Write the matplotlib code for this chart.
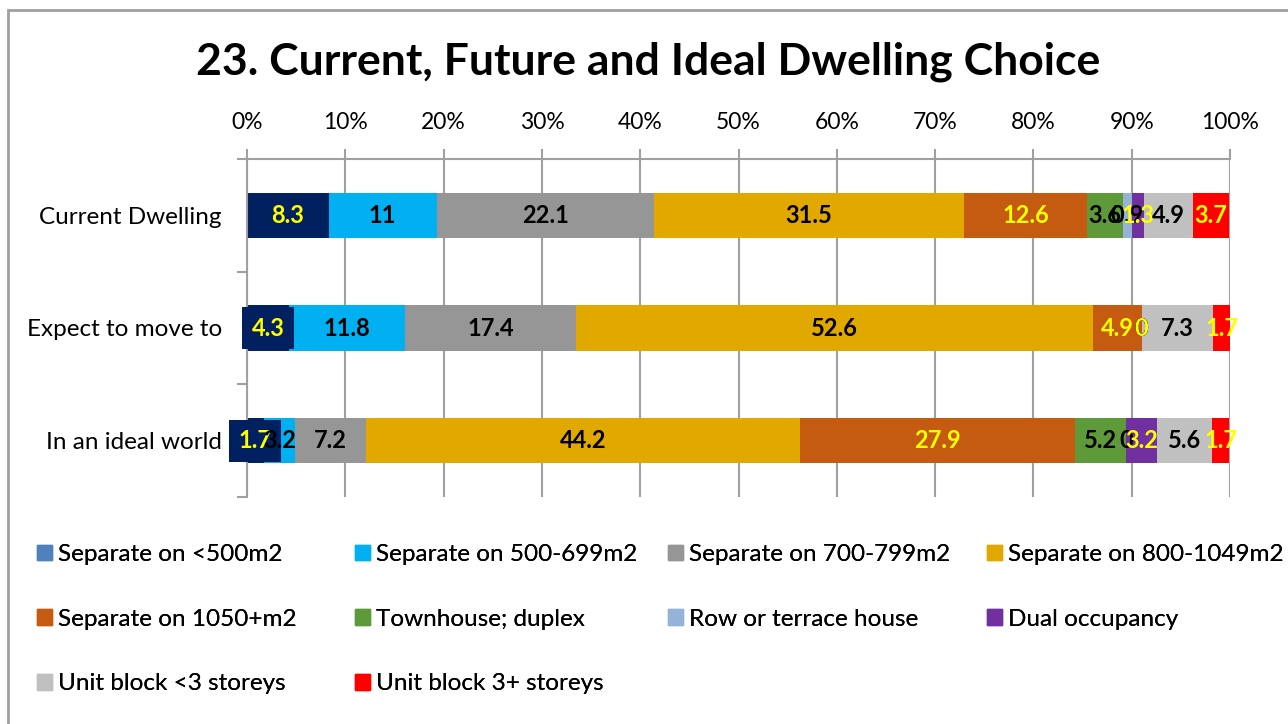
import matplotlib.pyplot as plt
from matplotlib.patches import Rectangle, Patch
import numpy as np

plt.rcParams["font.family"] = ["Lato", "DejaVu Sans"]

categories = ["Current Dwelling", "Expect to move to", "In an ideal world"]

series_names = [
    "Separate on <500m2", "Separate on 500-699m2", "Separate on 700-799m2",
    "Separate on 800-1049m2", "Separate on 1050+m2", "Townhouse; duplex",
    "Row or terrace house", "Dual occupancy", "Unit block <3 storeys",
    "Unit block 3+ storeys",
]

sep_lt500 = [8.3, 4.3, 1.7]
sep_500_699 = [11, 11.8, 3.2]
sep_700_799 = [22.1, 17.4, 7.2]
sep_800_1049 = [31.5, 52.6, 44.2]
sep_1050 = [12.6, 4.9, 27.9]
townhouse = [3.6, 0, 5.2]
row_terrace = [0.9, 0, 0]
dual_occ = [1.3, 0, 3.2]
unit_lt3 = [4.9, 7.3, 5.6]
unit_3plus = [3.7, 1.7, 1.7]

series = [sep_lt500, sep_500_699, sep_700_799, sep_800_1049, sep_1050,
          townhouse, row_terrace, dual_occ, unit_lt3, unit_3plus]

bar_colors = ["#002060", "#00B0F0", "#969696", "#E1A900", "#C55A11",
              "#5E9A3A", "#95B3D7", "#7030A0", "#C0C0C0", "#FF0000"]
legend_colors = ["#4F81BD"] + bar_colors[1:]
label_colors = ["#FFFF00", "black", "black", "black", "#FFFF00",
                "black", "black", "#FFFF00", "black", "#FFFF00"]

fig = plt.figure(figsize=(12.88, 7.24), dpi=100)
ax = fig.add_axes([247 / 1288, 1 - 497 / 724, 983 / 1288, 338 / 724])

y = np.arange(len(categories))
left = np.zeros(len(categories))
for i, (vals, name) in enumerate(zip(series, series_names)):
    vals = np.array(vals, dtype=float)
    ax.barh(y, vals, left=left, height=0.4, color=bar_colors[i], label=name, zorder=2)
    for j, v in enumerate(vals):
        box = None
        if i == 0:
            box = dict(boxstyle="square,pad=0.4", fc="#002060", ec="none")
        ax.text(left[j] + v / 2, y[j], f"{v:g}", ha="center", va="center",
                fontsize=17, fontweight="bold", color=label_colors[i],
                bbox=box, zorder=4)
    left += vals

ax.set_xlim(0, 100)
ax.set_ylim(2.5, -0.5)
ax.xaxis.tick_top()
ax.set_xticks(np.arange(0, 101, 10))
ax.set_xticklabels([f"{t}%" for t in range(0, 101, 10)], fontsize=16.5)
ax.tick_params(axis="x", length=7, width=1.5, color="#A0A0A0", pad=12)
ax.grid(axis="x", color="#A0A0A0", lw=1.5, zorder=0)

ax.set_yticks(y)
ax.set_yticklabels(categories, fontsize=17.5)
ax.set_yticks([-0.5, 0.5, 1.5, 2.5], minor=True)
ax.tick_params(axis="y", which="major", length=0, pad=18)
ax.tick_params(axis="y", which="minor", length=7, width=1.5, color="#A0A0A0")

for side in ["right", "bottom"]:
    ax.spines[side].set_visible(False)
for side in ["top", "left"]:
    ax.spines[side].set_color("#A0A0A0")
    ax.spines[side].set_linewidth(1.5)
ax.set_axisbelow(True)

# legend laid out row by row in four evenly spaced columns
handles = [Patch(color=c) for c in legend_colors]
col_x = [37, 355, 668, 987]
for c, x0 in enumerate(col_x):
    idx = list(range(c, len(series_names), 4))
    leg = fig.legend([handles[k] for k in idx], [series_names[k] for k in idx],
                     loc="upper left", bbox_to_anchor=(x0 / 1288, 1 - 544 / 724),
                     frameon=False, fontsize=17.5, handlelength=0.62,
                     handleheight=0.62, handletextpad=0.25, labelspacing=1.8,
                     borderpad=0, borderaxespad=0)
    fig.add_artist(leg)

fig.text(0.503, 1 - 62 / 724, "23. Current, Future and Ideal Dwelling Choice",
         ha="center", va="center", fontsize=32, fontweight="bold")

fig.add_artist(Rectangle((8 / 1288, -0.1), 1.2, (1 - 10 / 724) + 0.1,
                         transform=fig.transFigure, fill=False,
                         ec="#A0A0A0", lw=2))

fig.savefig("out.png", dpi=100)
